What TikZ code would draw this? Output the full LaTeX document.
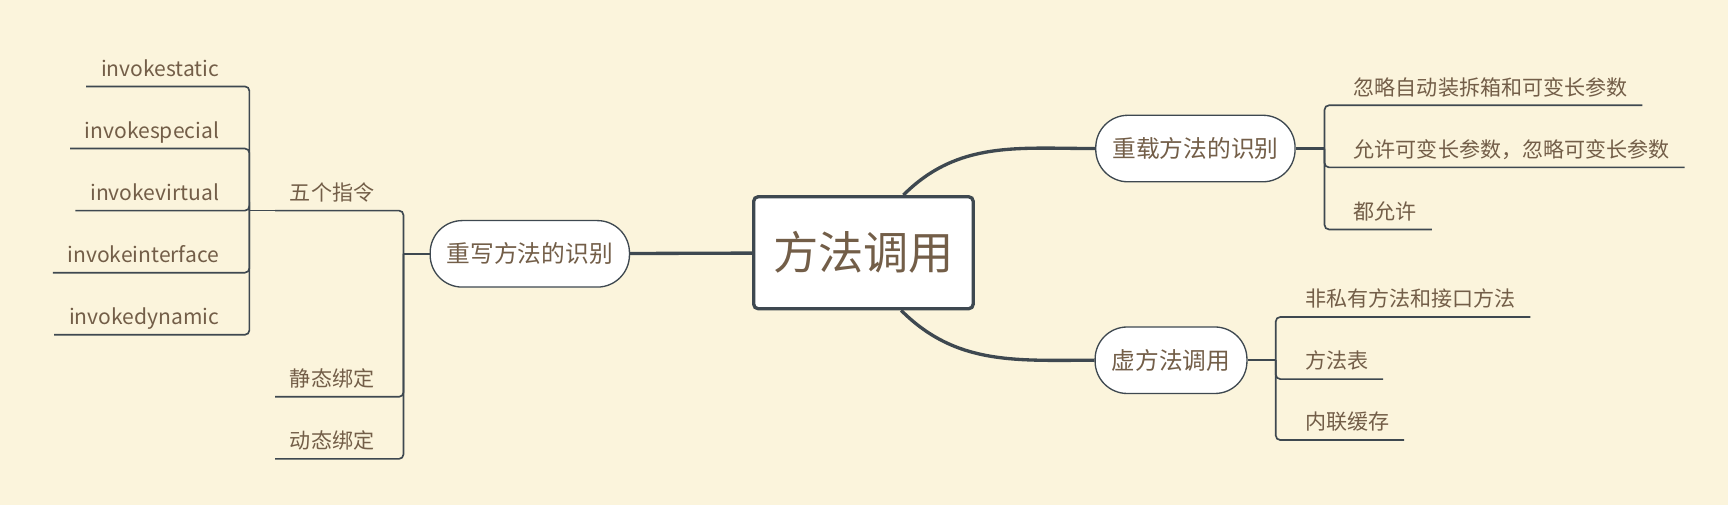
\documentclass[tikz,border=0pt]{standalone}
\usepackage{fontspec}
\setmainfont{Noto Sans CJK SC}
\definecolor{bg}{RGB}{251,244,220}
\definecolor{ink}{RGB}{62,72,80}
\definecolor{txt}{RGB}{115,94,72}
\tikzset{
  root/.style={draw=ink, line width=1.5pt, fill=white, rounded corners=2pt, minimum width=99pt, minimum height=50.5pt, text=txt, font=\fontsize{20.4}{24}\selectfont, text height=18pt, text depth=2.5pt},
  topic/.style={draw=ink, line width=0.6pt, fill=white, rounded corners=14.5pt, minimum height=30pt, inner xsep=7.5pt, text=txt, font=\fontsize{10.7}{13}\selectfont, text height=9.4pt, text depth=1.3pt},
  leaf/.style={inner xsep=6.5pt, inner ysep=2.4pt, text=txt, font=\fontsize{9.5}{11}\selectfont, text height=7pt, text depth=2pt},
  trunk/.style={draw=ink, line width=1.5pt},
  twig/.style={draw=ink, line width=0.75pt, rounded corners=2pt},
  stem/.style={draw=ink, line width=1pt}
}
\begin{document}
\begin{tikzpicture}[x=0.5pt,y=-0.5pt]
            \fill[bg] (0,0) rectangle (1559,456);
            \node[root] (main) at (779,228) {方法调用};
            \node[topic] (rewrite) at (478,229) {重写方法的识别};
            \node[topic] (overload) at (1078.5,134) {重载方法的识别};
            \node[topic] (virt) at (1056.5,325) {虚方法调用};

            \coordinate (ihub) at (225,190);
            \coordinate (rhub) at (364,229);
            \coordinate (ohub) at (1195,134);
            \coordinate (vhub) at (1151,325);

            \node[leaf, anchor=south east] (istatic) at (211,78) {invokestatic};
            \node[leaf, anchor=south east] (ispecial) at (211,134) {invokespecial};
            \node[leaf, anchor=south east] (ivirtual) at (211,190) {invokevirtual};
            \node[leaf, anchor=south east] (iface) at (211,246) {invokeinterface};
            \node[leaf, anchor=south east] (idyn) at (211,302) {invokedynamic};
            \node[leaf, anchor=south east] (five) at (351,190) {五个指令};
            \node[leaf, anchor=south east] (static) at (351,358) {静态绑定};
            \node[leaf, anchor=south east] (dynamic) at (351,414) {动态绑定};
            \node[leaf, anchor=south west] (ignore) at (1208,95) {忽略自动装拆箱和可变长参数};
            \node[leaf, anchor=south west] (allow) at (1208,151) {允许可变长参数，忽略可变长参数};
            \node[leaf, anchor=south west] (both) at (1208,207) {都允许};
            \node[leaf, anchor=south west] (nonpriv) at (1164,286) {非私有方法和接口方法};
            \node[leaf, anchor=south west] (table) at (1164,342) {方法表};
            \node[leaf, anchor=south west] (cache) at (1164,397) {内联缓存};

            \draw[trunk] (rewrite) -- (main);
            \draw[trunk] ([xshift=18pt]main.north) to[out=45,in=180] (overload.west);
            \draw[trunk] ([xshift=17pt]main.south) to[out=-45,in=180] (virt.west);
            \draw[stem] (rewrite) -- (rhub); \draw[stem] (overload) -- (ohub); \draw[stem] (virt) -- (vhub);
            \draw[twig] (ihub) -- (five.south west);

            \foreach \n in {istatic,ispecial,ivirtual,iface,idyn}
              \draw[twig] (\n.south west) -- (\n.south -| ihub) -- (ihub);
            \foreach \n in {five,static,dynamic}
              \draw[twig] (\n.south west) -- (\n.south -| rhub) -- (rhub);
            \foreach \n in {ignore,allow,both}
              \draw[twig] (\n.south east) -- (\n.south -| ohub) -- (ohub);
            \foreach \n in {nonpriv,table,cache}
              \draw[twig] (\n.south east) -- (\n.south -| vhub) -- (vhub);
        \end{tikzpicture}
\end{document}
